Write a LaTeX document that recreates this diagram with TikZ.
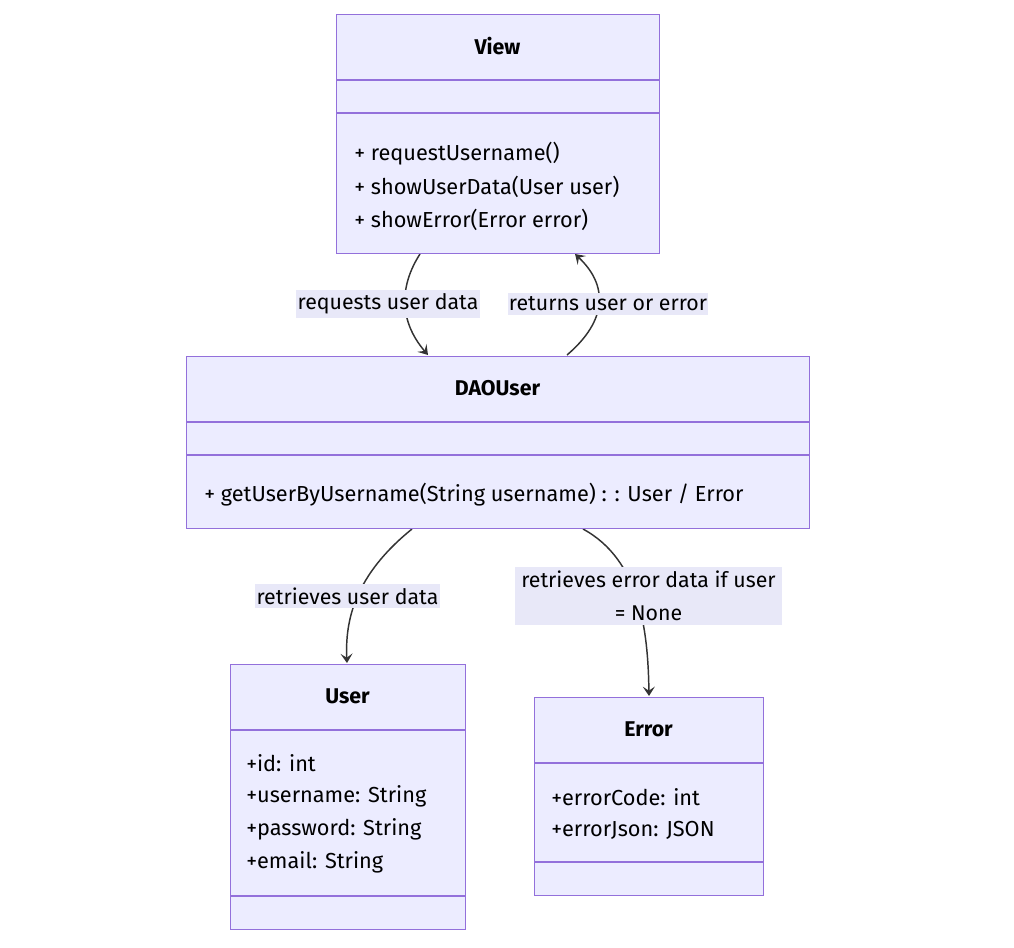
\documentclass[tikz,border=0pt]{standalone}
\usepackage{fontspec}
\setmainfont{Fira Sans}
\usetikzlibrary{arrows.meta,backgrounds}
\definecolor{boxfill}{HTML}{ECECFF}
\definecolor{boxline}{HTML}{9370DB}
\definecolor{edgecol}{HTML}{333333}
\definecolor{labfill}{HTML}{E8E8F8}
\tikzset{
  classbox/.style={draw=boxline,fill=boxfill,line width=1.1pt,anchor=north west,inner sep=0pt},
  divider/.style={draw=boxline,line width=1pt},
  title/.style={font=\fontsize{16}{19}\selectfont\bfseries,text=black,inner sep=0pt},
  member/.style={font=\fontsize{16.3}{19}\selectfont,text=black,anchor=west,inner sep=0pt},
  elabel/.style={font=\fontsize{16}{24.75}\selectfont,fill=labfill,text=black,inner xsep=1pt,inner ysep=3pt,align=center},
  conn/.style={draw=edgecol,line width=1.1pt,-{Stealth[length=7pt,width=9pt,inset=3pt]}}
}
\begin{document}
\begin{tikzpicture}[x=0.75pt,y=-0.75pt]
\useasboundingbox (0,0) rectangle (1014,947);
% View
\node[classbox,minimum width=323*0.75pt,minimum height=239*0.75pt] (view) at (336,14) {};
\draw[divider] (336,80) -- (659,80);
\draw[divider] (336,113) -- (659,113);
\node[title] (viewt) at (497.5,46) {View};
\node[member] (viewm1) at (354,154) {+ requestUsername()};
\node[member] (viewm2) at (354,187) {+ showUserData(User user)};
\node[member] (viewm3) at (354,220) {+ showError(Error error)};
% DAOUser
\node[classbox,minimum width=623*0.75pt,minimum height=172*0.75pt] (dao) at (186,356) {};
\draw[divider] (186,422) -- (809,422);
\draw[divider] (186,455) -- (809,455);
\node[title] (daot) at (497.5,388) {DAOUser};
\node[member] (daom1) at (204,495) {+ getUserByUsername(String username) : : User / Error};
% User
\node[classbox,minimum width=235*0.75pt,minimum height=265*0.75pt] (user) at (230,664) {};
\draw[divider] (230,730) -- (465,730);
\draw[divider] (230,896) -- (465,896);
\node[title] (usert) at (347.5,696) {User};
\node[member] (usera1) at (246,763) {+id: int};
\node[member] (usera2) at (246,796) {+username: String};
\node[member] (usera3) at (246,829) {+password: String};
\node[member] (usera4) at (246,862) {+email: String};
% Error
\node[classbox,minimum width=229*0.75pt,minimum height=198*0.75pt] (err) at (534,697) {};
\draw[divider] (534,763) -- (763,763);
\draw[divider] (534,862) -- (763,862);
\node[title] (errt) at (648.5,729) {Error};
\node[member] (erra1) at (551,797) {+errorCode: int};
\node[member] (erra2) at (551,830) {+errorJson: JSON};
% edge end points
\coordinate (e1a) at (420,254);
\coordinate (e1b) at (428,355);
\coordinate (e2a) at (567,355);
\coordinate (e2b) at (575,254);
\coordinate (e3a) at (412,529);
\coordinate (e3b) at (347,663);
\coordinate (e4a) at (583,529);
\coordinate (e4b) at (649,696);
% labels
\node[elabel] (l1) at (388,304) {requests user data};
\node[elabel] (l2) at (608,304) {returns user or error};
\node[elabel] (l3) at (347.5,596) {retrieves user data};
\node[elabel,inner xsep=5pt] (l4) at (648.5,596) {retrieves error data if user\\= None};
\begin{scope}[on background layer]
\draw[conn] (e1a) .. controls (400,285) and (398,320) .. (e1b);
\draw[conn] (e2a) .. controls (608,320) and (608,285) .. (e2b);
\draw[conn] (e3a) .. controls (355,575) and (345,620) .. (e3b);
\draw[conn] (e4a) .. controls (640,560) and (648,630) .. (e4b);
\end{scope}
\end{tikzpicture}
\end{document}
